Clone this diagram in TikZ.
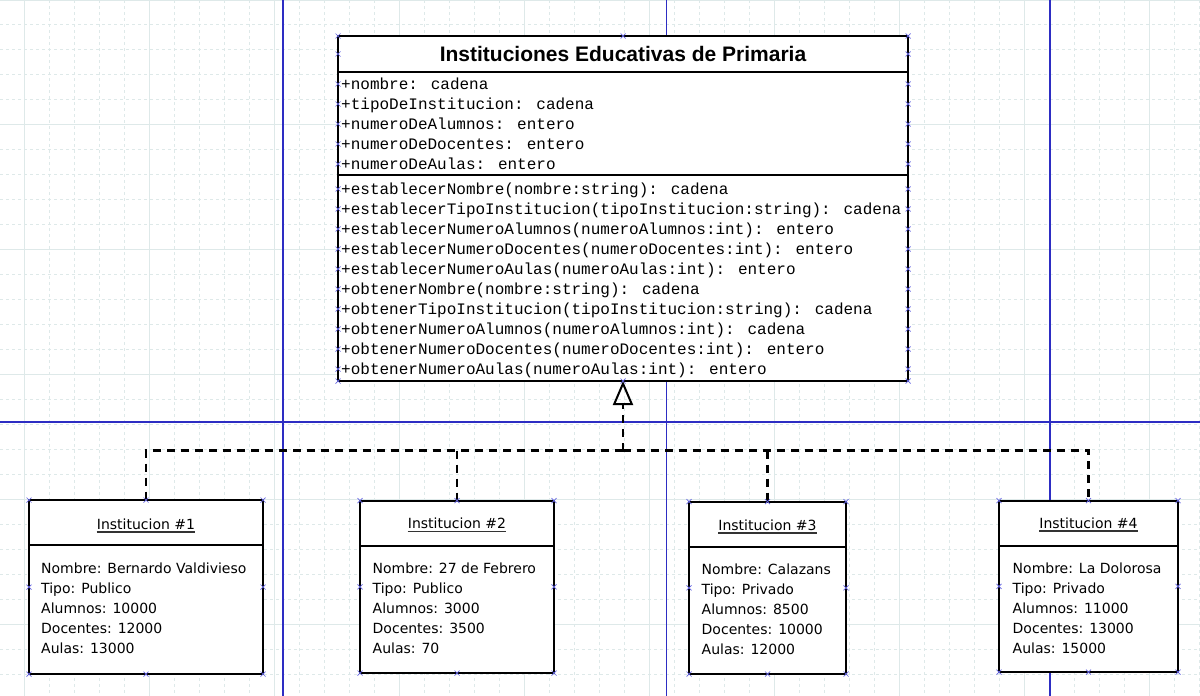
\documentclass[tikz,border=0pt]{standalone}
\usepackage{fontspec}
\setmainfont{DejaVu Sans}
\newfontfamily\monof{Liberation Mono}
\newfontfamily\titlef{Liberation Sans}
\usetikzlibrary{arrows.meta,calc}
\definecolor{gridc}{RGB}{222,233,233}
\definecolor{guide}{RGB}{45,45,195}
\definecolor{mkc}{RGB}{100,100,225}
\begin{document}
\begin{tikzpicture}[x=1pt,y=-1pt,
  box/.style={draw=black, line width=2pt, fill=white, anchor=north west, inner sep=0pt, outer sep=0pt},
  sep/.style={draw=black, line width=2pt},
  mono/.style={anchor=base west, inner sep=0pt, font=\monof\fontsize{16}{16}\selectfont},
  body/.style={anchor=base west, inner sep=0pt, font=\fontsize{14}{14}\selectfont},
  head/.style={anchor=base, inner sep=0pt, font=\fontsize{14}{14}\selectfont},
  uline/.style={draw=black!80, line width=1.2pt},
  dep/.style={draw=black, line width=2.5pt, dash pattern=on 8pt off 6pt},
  gridd/.style={draw=gridc, line width=1pt, dash pattern=on 3pt off 3pt},
  grids/.style={draw=gridc, line width=1pt},
  guideline/.style={draw=guide, line width=1.3pt},
  xmark/.pic={\draw[mkc, line width=0.7pt] (-2.5,-2.5) -- (2.5,2.5) (-2.5,2.5) -- (2.5,-2.5);}
]
\useasboundingbox (0,0) rectangle (1200,696);
\fill[white] (0,0) rectangle (1200,696);
% grid
\foreach \x in {24,49,...,1199} \draw[gridd] (\x,0) -- (\x,696);
\foreach \y in {24,49,...,695} \draw[gridd] (0,\y) -- (1200,\y);
\foreach \x in {24,149,...,1199} \draw[grids] (\x,0) -- (\x,696);
\foreach \y in {0,124,249,374,499,624} \draw[grids] (0,\y) -- (1200,\y);
% guide lines
\foreach \x in {283,666.5,1050} \draw[guideline] (\x,0) -- (\x,696);
\draw[guideline] (0,422) -- (1200,422);

% class box
\node[box, minimum width=570pt, minimum height=345pt] (cls) at (338,36) {};
\draw[sep] ($(cls.north west)+(0,36)$) -- ($(cls.north east)+(0,36)$);
\draw[sep] ($(cls.north west)+(0,139)$) -- ($(cls.north east)+(0,139)$);
\node[anchor=base, inner sep=0pt, font=\titlef\bfseries\fontsize{21}{21}\selectfont] (title) at (623,61.7) {Instituciones Educativas de Primaria};
\foreach \t [count=\i from 0] in {{+nombre: cadena},{+tipoDeInstitucion: cadena},{+numeroDeAlumnos: entero},{+numeroDeDocentes: entero},{+numeroDeAulas: entero}}
  \node[mono] (a\i) at (341,{89+20*\i}) {\t};
\foreach \t [count=\i from 0] in {
  {+establecerNombre(nombre:string): cadena},
  {+establecerTipoInstitucion(tipoInstitucion:string): cadena},
  {+establecerNumeroAlumnos(numeroAlumnos:int): entero},
  {+establecerNumeroDocentes(numeroDocentes:int): entero},
  {+establecerNumeroAulas(numeroAulas:int): entero},
  {+obtenerNombre(nombre:string): cadena},
  {+obtenerTipoInstitucion(tipoInstitucion:string): cadena},
  {+obtenerNumeroAlumnos(numeroAlumnos:int): cadena},
  {+obtenerNumeroDocentes(numeroDocentes:int): entero},
  {+obtenerNumeroAulas(numeroAulas:int): entero}}
  \node[mono] (m\i) at (341,{194+20*\i}) {\t};

% instance boxes
\node[box, minimum width=234pt, minimum height=174pt] (b1) at (29,500) {};
\node[box, minimum width=194pt, minimum height=172.3pt] (b2) at (360,500.7) {};
\node[box, minimum width=157pt, minimum height=172.3pt] (b3) at (689,501.7) {};
\node[box, minimum width=179pt, minimum height=171.5pt] (b4) at (999,500.7) {};
\foreach \b in {b1,b2,b3,b4}
  \draw[sep] ($(\b.north west)+(0,45)$) -- ($(\b.north east)+(0,45)$);

\node[head] (h1) at (146,529) {Institucion \#1};
\node[head] (h2) at (457,528.5) {Institucion \#2};
\node[head] (h3) at (767.5,530) {Institucion \#3};
\node[head] (h4) at (1088.5,528) {Institucion \#4};
\foreach \h in {h1,h2,h3,h4}
  \draw[uline] ($(\h.base west)+(0,3)$) -- ($(\h.base east)+(0,3)$);

\foreach \t [count=\i from 0] in {{Nombre: Bernardo Valdivieso},{Tipo: Publico},{Alumnos: 10000},{Docentes: 12000},{Aulas: 13000}}
  \node[body] (p\i) at (41,{573+20*\i}) {\t};
\foreach \t [count=\i from 0] in {{Nombre: 27 de Febrero},{Tipo: Publico},{Alumnos: 3000},{Docentes: 3500},{Aulas: 70}}
  \node[body] (q\i) at (372.5,{573+20*\i}) {\t};
\foreach \t [count=\i from 0] in {{Nombre: Calazans},{Tipo: Privado},{Alumnos: 8500},{Docentes: 10000},{Aulas: 12000}}
  \node[body] (r\i) at (701.5,{574.3+20*\i}) {\t};
\foreach \t [count=\i from 0] in {{Nombre: La Dolorosa},{Tipo: Privado},{Alumnos: 11000},{Docentes: 13000},{Aulas: 15000}}
  \node[body] (s\i) at (1012.5,{573.3+20*\i}) {\t};

% connectors
\coordinate (j) at (623,450.7);
\draw[dep] (j) -| (b1.north);
\draw[dep] (j) -| (b4.north);
\draw[dep] (b2.north |- j) -- (b2.north);
\draw[dep] (b3.north |- j) -- (b3.north);
\draw[dep, -{Triangle[open, length=24pt, width=20pt, line width=2pt]}] (j) -- (cls.south);

% connection point markers
\foreach \y in {36,54,84,104,124,144,164,189,209,229,249,269,289,309,329,349,369,381} {
  \pic at (cls.west |- 0,\y) {xmark};
  \pic at (cls.east |- 0,\y) {xmark};
}
\pic at (cls.north) {xmark};
\pic at (cls.south) {xmark};
\foreach \b in {b1,b2,b3,b4}
  \foreach \a in {north west,north,north east,west,east,south west,south,south east}
    \pic at (\b.\a) {xmark};
\end{tikzpicture}
\end{document}
